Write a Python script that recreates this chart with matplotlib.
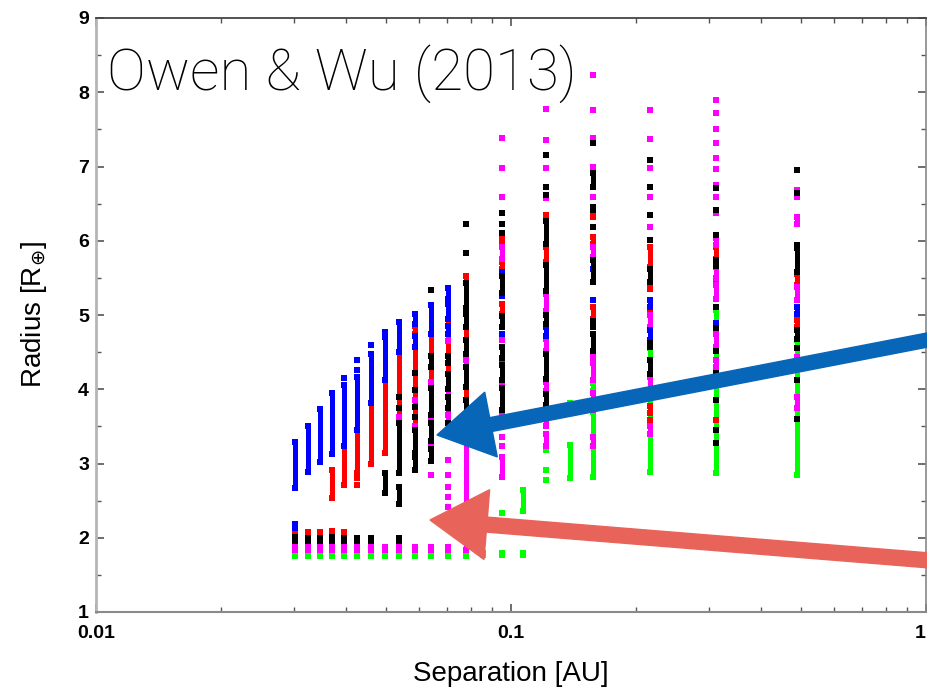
import numpy as np
import matplotlib
matplotlib.use('Agg')
import matplotlib.pyplot as plt
from matplotlib.patches import FancyArrow
from matplotlib.ticker import FixedLocator, LogLocator, NullFormatter

# ── Simulated planets after evaporation: runs of points (sep [AU], R_lo, R_hi) ──
# a single point has R_lo == R_hi
green_runs = [
    (0.0302, 1.75, 1.80), (0.0324, 1.75, 1.80), (0.0346, 1.75, 1.80), (0.0370, 1.75, 1.80),
    (0.0396, 1.75, 1.80), (0.0426, 1.75, 1.80), (0.0459, 1.75, 1.80), (0.0497, 1.75, 1.80),
    (0.0538, 1.76, 1.79), (0.0587, 1.76, 1.79), (0.0642, 1.76, 1.79), (0.0705, 1.76, 1.79),
    (0.0777, 1.76, 1.79), (0.0858, 1.77, 1.79), (0.0953, 1.77, 1.79), (0.107, 1.77, 1.79),
    (0.0953, 2.33, 2.33), (0.107, 2.36, 2.64),
    (0.1215, 2.78, 2.78), (0.1215, 2.91, 2.91), (0.1215, 3.18, 3.18),
    (0.139, 2.80, 3.25), (0.139, 3.81, 3.81),
    (0.158, 2.82, 3.70), (0.158, 3.97, 4.08),
    (0.216, 2.89, 4.55),
    (0.312, 2.87, 5.07),
    (0.489, 2.85, 4.66),
]
red_runs = [
    (0.0302, 2.05, 2.09), (0.0324, 2.05, 2.08), (0.0346, 2.05, 2.08), (0.0370, 2.05, 2.09),
    (0.0396, 2.05, 2.08),
    (0.0370, 2.53, 2.91), (0.0396, 2.71, 3.23), (0.0426, 2.87, 3.45), (0.0426, 2.80, 2.80),
    (0.0426, 2.71, 2.71), (0.0459, 3.00, 3.81), (0.0497, 3.14, 4.12), (0.0538, 3.55, 4.50),
    (0.0587, 3.45, 4.57), (0.0587, 4.75, 4.85),
    (0.0642, 4.10, 4.30), (0.0642, 4.45, 4.75),
    (0.0705, 5.15, 5.22), (0.0705, 4.85, 4.95), (0.0705, 4.45, 4.65), (0.0705, 4.20, 4.35),
    (0.0705, 3.65, 3.75),
    (0.0777, 5.43, 5.52), (0.0777, 4.66, 4.84), (0.0777, 4.39, 4.48), (0.0777, 3.86, 4.03),
    (0.0953, 5.95, 6.02), (0.0953, 5.62, 5.72), (0.0953, 5.02, 5.15), (0.0953, 4.35, 4.40),
    (0.1215, 6.30, 6.35), (0.1215, 5.72, 5.92),
    (0.158, 6.32, 6.38), (0.158, 5.95, 6.05), (0.158, 4.95, 5.11),
    (0.216, 5.65, 5.92), (0.216, 5.35, 5.42), (0.216, 5.02, 5.08), (0.216, 3.68, 3.77),
    (0.216, 3.55, 3.59),
    (0.312, 5.76, 5.92), (0.312, 5.46, 5.46), (0.312, 3.59, 3.59),
    (0.489, 5.40, 5.55), (0.489, 4.84, 4.93),
]
magenta_runs = [
    (0.0302, 1.83, 1.88), (0.0324, 1.83, 1.88), (0.0346, 1.83, 1.88), (0.0370, 1.83, 1.88),
    (0.0396, 1.83, 1.88), (0.0426, 1.83, 1.88), (0.0459, 1.83, 1.88), (0.0497, 1.83, 1.88),
    (0.0538, 1.83, 1.87), (0.0587, 1.83, 1.87), (0.0642, 1.83, 1.87), (0.0705, 1.83, 1.87),
    (0.0538, 3.62, 3.62), (0.0587, 3.86, 3.86), (0.0587, 3.50, 3.50),
    (0.0642, 4.02, 4.10), (0.0642, 3.58, 3.62), (0.0642, 3.23, 3.27), (0.0642, 2.85, 2.85),
    (0.0705, 4.65, 4.75), (0.0705, 3.90, 4.00), (0.0705, 3.55, 3.65), (0.0705, 3.05, 3.05),
    (0.0705, 2.85, 2.85), (0.0705, 2.69, 2.69), (0.0705, 2.55, 2.55), (0.0705, 2.42, 2.42),
    (0.0777, 5.02, 5.07), (0.0777, 4.30, 4.39), (0.0777, 1.83, 3.45),
    (0.0953, 7.38, 7.38), (0.0953, 6.98, 6.98), (0.0953, 6.59, 6.59), (0.0953, 5.76, 5.92),
    (0.0953, 4.66, 4.66), (0.0953, 4.05, 4.10), (0.0953, 3.59, 3.68), (0.0953, 3.50, 3.50),
    (0.0953, 3.36, 3.36), (0.0953, 3.23, 3.23), (0.0953, 2.82, 3.09),
    (0.1215, 7.77, 7.77), (0.1215, 7.36, 7.36), (0.1215, 6.98, 6.98), (0.1215, 6.57, 6.57),
    (0.1215, 5.05, 5.28), (0.1215, 4.52, 4.68), (0.1215, 3.97, 4.10), (0.1215, 3.50, 3.68),
    (0.1215, 3.23, 3.40),
    (0.158, 8.23, 8.23), (0.158, 7.76, 7.76), (0.158, 7.38, 7.38), (0.158, 7.00, 7.00),
    (0.158, 6.59, 6.59), (0.158, 5.78, 5.92), (0.158, 4.40, 4.48), (0.158, 4.12, 4.35),
    (0.158, 3.72, 3.95), (0.158, 3.23, 3.36),
    (0.216, 7.76, 7.76), (0.216, 7.37, 7.37), (0.216, 6.98, 6.98), (0.216, 6.59, 6.59),
    (0.216, 6.19, 6.19), (0.216, 4.84, 5.00), (0.216, 3.95, 4.17), (0.216, 3.40, 3.50),
    (0.312, 7.90, 7.90), (0.312, 7.72, 7.72), (0.312, 7.50, 7.50), (0.312, 7.31, 7.31),
    (0.312, 7.11, 7.11), (0.312, 6.96, 6.96), (0.312, 6.75, 6.75), (0.312, 6.59, 6.59),
    (0.312, 6.37, 6.37), (0.312, 5.94, 6.04), (0.312, 5.50, 5.64), (0.312, 5.22, 5.40),
    (0.312, 4.57, 4.75), (0.312, 4.30, 4.40),
    (0.489, 6.59, 6.68), (0.489, 6.23, 6.32), (0.489, 5.20, 5.38), (0.489, 4.30, 4.44),
    (0.489, 3.75, 3.90),
]
blue_runs = [
    (0.0302, 2.13, 2.19),
    (0.0302, 2.67, 3.29), (0.0324, 2.88, 3.50), (0.0346, 3.02, 3.73), (0.0370, 3.13, 3.95),
    (0.0396, 3.23, 4.06), (0.0396, 4.15, 4.15), (0.0426, 3.45, 4.16), (0.0426, 4.26, 4.26),
    (0.0426, 4.39, 4.39), (0.0459, 3.81, 4.48), (0.0459, 4.60, 4.60), (0.0497, 4.12, 4.71),
    (0.0497, 4.77, 4.77), (0.0538, 4.50, 4.91), (0.0587, 4.88, 5.02), (0.0587, 4.57, 4.72),
    (0.0642, 4.75, 5.13), (0.0705, 5.22, 5.36), (0.0705, 4.95, 5.15), (0.0705, 4.75, 4.85),
    (0.0953, 5.58, 5.58), (0.0953, 5.25, 5.25), (0.0953, 4.75, 4.75),
    (0.1215, 4.72, 4.84),
    (0.158, 5.62, 5.62), (0.158, 5.20, 5.20),
    (0.216, 5.11, 5.20), (0.216, 4.66, 4.80),
    (0.312, 4.89, 4.89),
    (0.489, 5.02, 5.11),
]
black_runs = [
    (0.0302, 1.95, 2.01), (0.0324, 1.95, 2.00), (0.0346, 1.95, 2.00), (0.0370, 1.95, 2.01),
    (0.0396, 1.95, 2.00), (0.0426, 1.95, 2.00), (0.0459, 1.95, 2.00), (0.0538, 1.95, 2.00),
    (0.0497, 2.60, 2.87),
    (0.0538, 2.87, 3.55), (0.0538, 3.75, 3.75), (0.0538, 3.90, 3.90), (0.0538, 2.46, 2.69),
    (0.0587, 2.91, 3.09), (0.0587, 3.14, 3.45), (0.0587, 4.22, 4.22), (0.0587, 3.99, 3.99),
    (0.0587, 3.76, 3.76), (0.0587, 3.63, 3.63),
    (0.0642, 5.33, 5.33), (0.0642, 4.30, 4.45), (0.0642, 3.65, 4.02), (0.0642, 3.30, 3.55),
    (0.0642, 3.03, 3.20),
    (0.0705, 4.35, 4.45), (0.0705, 4.00, 4.20), (0.0705, 3.75, 3.90), (0.0705, 3.41, 3.55),
    (0.0777, 6.23, 6.23), (0.0777, 5.83, 5.83), (0.0777, 5.10, 5.43), (0.0777, 4.84, 5.02),
    (0.0777, 4.48, 4.66), (0.0777, 4.03, 4.30), (0.0777, 3.45, 3.86),
    (0.0953, 6.37, 6.37), (0.0953, 6.23, 6.23), (0.0953, 6.10, 6.10), (0.0953, 5.29, 5.52),
    (0.0953, 4.84, 4.98), (0.0953, 4.42, 4.57), (0.0953, 4.12, 4.32), (0.0953, 3.72, 4.02),
    (0.1215, 7.16, 7.16), (0.1215, 6.73, 6.73), (0.1215, 6.62, 6.62), (0.1215, 5.95, 6.26),
    (0.1215, 5.32, 5.68), (0.1215, 4.88, 5.00), (0.1215, 4.14, 4.48), (0.1215, 3.79, 3.93),
    (0.158, 7.31, 7.31), (0.158, 6.73, 6.91), (0.158, 6.42, 6.46), (0.158, 6.19, 6.19),
    (0.158, 5.45, 5.74), (0.158, 4.84, 4.92), (0.158, 4.52, 4.75),
    (0.216, 7.09, 7.09), (0.216, 6.73, 6.73), (0.216, 6.35, 6.35), (0.216, 6.01, 6.01),
    (0.216, 5.45, 5.62), (0.216, 4.57, 4.62), (0.216, 4.21, 4.39),
    (0.312, 6.71, 6.71), (0.312, 6.41, 6.41), (0.312, 6.08, 6.08), (0.312, 5.66, 5.74),
    (0.312, 5.11, 5.11), (0.312, 4.82, 4.82), (0.312, 4.52, 4.52), (0.312, 4.22, 4.22),
    (0.312, 3.86, 3.86), (0.312, 3.45, 3.45), (0.312, 3.27, 3.27),
    (0.489, 6.95, 6.95), (0.489, 6.64, 6.64), (0.489, 5.94, 5.94), (0.489, 5.58, 5.90),
    (0.489, 4.68, 4.80), (0.489, 4.55, 4.55), (0.489, 4.12, 4.12), (0.489, 3.60, 3.60),
]

y_ticks = [1, 2, 3, 4, 5, 6, 7, 8, 9]
x_ticks = [0.01, 0.1, 1]
x_ticklabels = ['0.01', '0.1', '1']

RUN_LW = 3.6      # pt, width of a column of points
MARK = 13         # pt^2, square marker

plt.rcParams['font.family'] = ['Liberation Sans', 'DejaVu Sans']

fig = plt.figure(figsize=(9.27, 6.89), dpi=100)
ax = fig.add_axes([96 / 927, 77 / 689, 830 / 927, 594 / 689])


def draw_runs(runs, color, z):
    s = np.array([r[0] for r in runs])
    lo = np.array([r[1] for r in runs])
    hi = np.array([r[2] for r in runs])
    ax.vlines(s, lo, hi, colors=color, lw=RUN_LW, zorder=z)
    ax.scatter(np.r_[s, s], np.r_[lo, hi], marker='s', s=MARK, c=color,
               linewidths=0, zorder=z)


draw_runs(green_runs, '#00ff00', 2)
draw_runs(red_runs, '#ff0000', 3)
draw_runs(magenta_runs, '#ff00ff', 4)
draw_runs(blue_runs, '#0000ff', 5)
draw_runs(black_runs, '#000000', 6)

# ── Axes ──
ax.set_xscale('log')
ax.set_xlim(0.01, 1)
ax.set_ylim(1, 9)
ax.xaxis.set_major_locator(FixedLocator(x_ticks))
ax.set_xticklabels(x_ticklabels)
ax.xaxis.set_minor_locator(LogLocator(base=10, subs=np.arange(2, 10)))
ax.xaxis.set_minor_formatter(NullFormatter())
ax.set_yticks(y_ticks)
ax.yaxis.set_minor_locator(FixedLocator(np.arange(1.5, 9, 1.0)))

ax.tick_params(which='both', direction='in', top=True, right=True, color='#555555')
ax.tick_params(which='major', length=6, width=1.2)
ax.tick_params(which='minor', length=3.5, width=1)
ax.tick_params(axis='x', pad=9, labelsize=14)
ax.tick_params(axis='y', pad=5, labelsize=14)
for lab in ax.get_xticklabels() + ax.get_yticklabels():
    lab.set_fontweight('bold')
ax.get_xticklabels()[-1].set_horizontalalignment('right')

ax.spines['left'].set_color('#b5b5b5'); ax.spines['left'].set_linewidth(2)
ax.spines['bottom'].set_color('#8a8a8a'); ax.spines['bottom'].set_linewidth(1.5)
ax.spines['top'].set_color('#444444'); ax.spines['top'].set_linewidth(1.3)
ax.spines['right'].set_color('#888888'); ax.spines['right'].set_linewidth(1.2)

ax.set_xlabel('Separation [AU]', fontsize=20, labelpad=14)
ax.set_ylabel(r'Radius [R$_{\oplus}$]', fontsize=20, labelpad=21)

fig.text(107 / 927, 1 - 90 / 689, 'Owen & Wu (2013)', fontsize=42,
         family=['Roboto', 'DejaVu Sans'], fontweight='light', va='baseline')

# ── Hand-drawn pointers ──
blue_arrow = FancyArrow(9.30, 6.89 - 3.395, -4.93, -0.955, width=0.14, head_width=0.66,
                        head_length=0.55, length_includes_head=True,
                        color='#0866b8', transform=fig.dpi_scale_trans)
red_arrow = FancyArrow(9.30, 6.89 - 5.605, -5.00, 0.405, width=0.15, head_width=0.70,
                       head_length=0.57, length_includes_head=True,
                       color='#e8645a', transform=fig.dpi_scale_trans)
fig.add_artist(blue_arrow)
fig.add_artist(red_arrow)

fig.savefig('out.png', dpi=100)
